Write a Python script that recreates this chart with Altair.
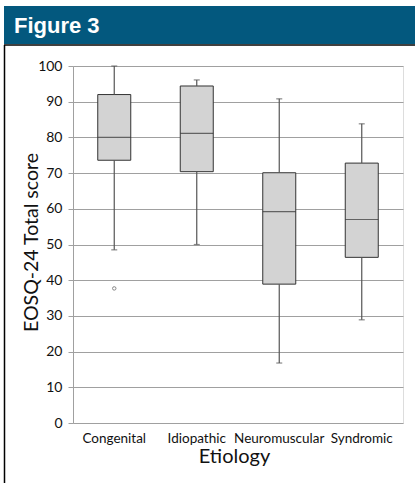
import altair as alt
import pandas as pd

categories = ["Congenital", "Idiopathic", "Neuromuscular", "Syndromic"]
lower = [48.5, 50.0, 16.8, 28.9]
q1 = [73.6, 70.4, 38.9, 46.4]
median = [80.0, 81.1, 59.2, 57.0]
q3 = [92.0, 94.4, 70.1, 72.8]
upper = [100.0, 96.1, 90.8, 83.8]
outlier_cat = ["Congenital"]
outlier_val = [37.7]
y_ticks = list(range(0, 101, 10))

df = pd.DataFrame(dict(cat=categories, lower=lower, q1=q1, median=median, q3=q3, upper=upper))
out = pd.DataFrame(dict(cat=outlier_cat, val=outlier_val))

FONT = "Lato"
GRID = "#a0a0a0"
BOX_STROKE = "#333333"
WHISK = "#555555"

x_axis = alt.Axis(
    title="Etiology", titleFont=FONT, titleFontSize=20, titleFontWeight="normal",
    titleColor="#111", titleBaseline="alphabetic", titleY=39, titleX=161,
    labelFont=FONT, labelFontSize=13.5, labelColor="#111", labelAngle=0,
    labelBaseline="alphabetic", labelPadding=19, ticks=False, tickSize=0,
    domain=False, grid=False,
)
xenc = alt.X("cat:N", sort=categories,
             scale=alt.Scale(paddingInner=0, paddingOuter=0), axis=x_axis)

y_scale = alt.Scale(domain=[0, 100], nice=False, zero=True)
y_axis = alt.Axis(
    title="EOSQ-24 Total score", titleFont=FONT, titleFontSize=19.5,
    titleFontWeight="normal", titleColor="#111", titleBaseline="alphabetic",
    titleX=-36, titleY=176, titleAngle=270,
    values=y_ticks, labelOverlap=False, labelFont=FONT, labelFontSize=14,
    labelColor="#111", labelPadding=6, tickSize=5, tickColor=GRID,
    domainColor=GRID, gridColor=GRID, gridWidth=1.2, grid=True,
)


def Y(field):
    return alt.Y(field, scale=y_scale, axis=y_axis)


box = alt.Chart(df).mark_bar(size=33, fill="#d3d3d3", stroke=BOX_STROKE, strokeWidth=1).encode(
    x=xenc, y=Y("q1:Q"), y2="q3:Q"
)
wlow = alt.Chart(df).mark_rule(color=WHISK, strokeWidth=1.2).encode(
    x=xenc, y=Y("lower:Q"), y2="q1:Q"
)
whigh = alt.Chart(df).mark_rule(color=WHISK, strokeWidth=1.2).encode(
    x=xenc, y=Y("q3:Q"), y2="upper:Q"
)
cap_lo = alt.Chart(df).mark_tick(size=6, thickness=1.2, color=WHISK).encode(
    x=xenc, y=Y("lower:Q")
)
cap_hi = alt.Chart(df).mark_tick(size=6, thickness=1.2, color=WHISK).encode(
    x=xenc, y=Y("upper:Q")
)
med = alt.Chart(df).mark_tick(size=33, thickness=1.2, color=BOX_STROKE).encode(
    x=xenc, y=Y("median:Q")
)
pts = alt.Chart(out).mark_point(size=12, filled=False, color=WHISK, strokeWidth=1).encode(
    x=xenc, y=Y("val:Q")
)

one = alt.Data(values=[{"a": 1}])
header = alt.Chart(one).mark_rect(color="#03587e").encode(
    x=alt.value(-69), x2=alt.value(342), y=alt.value(-60), y2=alt.value(-22)
)
topline = alt.Chart(one).mark_rule(color="#000", strokeWidth=1.5).encode(
    x=alt.value(-69), x2=alt.value(342), y=alt.value(-21)
)
leftline = alt.Chart(one).mark_rule(color="#000", strokeWidth=1.5).encode(
    x=alt.value(-68.5), y=alt.value(-21), y2=alt.value(417)
)
htext = alt.Chart(one).mark_text(
    text="Figure 3", align="left", baseline="alphabetic", font="Liberation Sans",
    fontWeight="bold", fontSize=22, color="white"
).encode(x=alt.value(-59), y=alt.value(-33))

chart = alt.layer(
    box, wlow, whigh, cap_lo, cap_hi, med, pts, header, topline, leftline, htext
).properties(
    width=330, height=357,
    autosize=alt.AutoSizeParams(type="none"),
    padding={"left": 73, "top": 66, "right": 12, "bottom": 60},
).configure_view(stroke=None).configure(background="white")

chart.save("out.html", embed_options={"renderer": "svg", "actions": False})
